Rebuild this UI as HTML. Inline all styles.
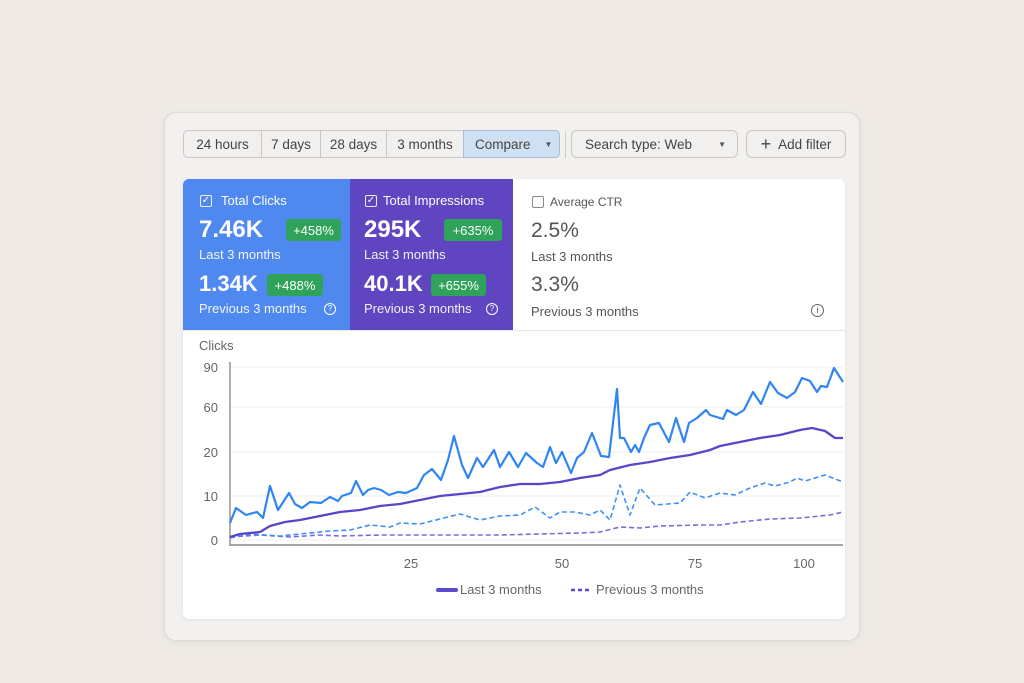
<!DOCTYPE html>
<html><head><meta charset="utf-8"><style>
*{box-sizing:border-box;margin:0;padding:0}
body{width:1024px;height:683px;background:#efeae6;font-family:"Liberation Sans",sans-serif;position:relative;overflow:hidden;color:#3c3c3c}
.a{position:absolute}
.panel{left:164px;top:112px;width:696px;height:529px;background:#f3f1ef;border:1px solid #dedad6;border-radius:12px;box-shadow:0 2px 8px rgba(0,0,0,.05)}
.seg{top:130px;height:28px;border:1px solid #c9c7c5;background:#f1f0ef;font-size:13.5px;color:#444;display:flex;align-items:center;justify-content:center}
.card{left:183px;top:179px;width:662px;height:440px;background:#fff;border-radius:6px;overflow:hidden;box-shadow:0 1px 3px rgba(0,0,0,.08)}
.w{color:#fff}
.badge{background:#2fa35a;color:#fff;font-size:13px;border-radius:3px;height:22px;display:flex;align-items:center;justify-content:center}
.cb{width:12px;height:12px;border:1.3px solid rgba(255,255,255,.9);border-radius:2px;font-size:10px;line-height:10px;text-align:center}
</style></head><body>
<div class="a panel"></div>
<div class="a seg" style="left:183px;width:79px;border-radius:5px 0 0 5px">24 hours</div>
<div class="a seg" style="left:261px;width:60px">7 days</div>
<div class="a seg" style="left:320px;width:67px">28 days</div>
<div class="a seg" style="left:386px;width:78px">3 months</div>
<div class="a seg" style="left:463px;width:97px;background:#cfe0f3;border-color:#a9bfd8;border-radius:0 5px 5px 0;justify-content:flex-start;padding-left:11px">Compare<span style="font-size:8px;margin-left:14px;color:#555">▼</span></div>
<div class="a" style="left:565px;top:131px;width:1px;height:27px;background:#ccc"></div>
<div class="a seg" style="left:571px;width:167px;border-radius:6px;justify-content:flex-start;padding-left:13px">Search type: Web<span style="font-size:8px;margin-left:26px;color:#555">▼</span></div>
<div class="a seg" style="left:746px;width:100px;border-radius:6px;font-size:13.5px"><span style="font-size:18px;margin-right:7px;font-weight:300">+</span>Add filter</div>
<div class="a card">
 <div class="a" style="left:0;top:0;width:167px;height:151px;background:#4f88ee"></div>
 <div class="a" style="left:167px;top:0;width:163px;height:151px;background:#5f45bf"></div>
 <div class="a" style="left:0;top:151px;width:662px;height:1px;background:#e6e6e6"></div>
 <div class="a cb w" style="left:17px;top:16px">✓</div>
 <div class="a w" style="left:38px;top:14px;font-size:13px">Total Clicks</div>
 <div class="a w" style="left:16px;top:37px;font-size:24px;font-weight:bold">7.46K</div>
 <div class="a badge" style="left:103px;top:40px;width:55px">+458%</div>
 <div class="a w" style="left:16px;top:68px;font-size:13px;opacity:.92">Last 3 months</div>
 <div class="a w" style="left:16px;top:92px;font-size:22px;font-weight:bold">1.34K</div>
 <div class="a badge" style="left:84px;top:95px;width:56px">+488%</div>
 <div class="a w" style="left:16px;top:122px;font-size:13px;opacity:.92">Previous 3 months</div>
 <div class="a w" style="left:141px;top:124px;width:12px;height:12px;border:1px solid #fff;border-radius:50%;font-size:8px;text-align:center;line-height:10px">?</div>
 <div class="a cb w" style="left:182px;top:16px">✓</div>
 <div class="a w" style="left:200px;top:14px;font-size:13px">Total Impressions</div>
 <div class="a w" style="left:181px;top:37px;font-size:24px;font-weight:bold">295K</div>
 <div class="a badge" style="left:261px;top:40px;width:58px">+635%</div>
 <div class="a w" style="left:181px;top:68px;font-size:13px;opacity:.92">Last 3 months</div>
 <div class="a w" style="left:181px;top:92px;font-size:22px;font-weight:bold">40.1K</div>
 <div class="a badge" style="left:248px;top:95px;width:55px">+655%</div>
 <div class="a w" style="left:181px;top:122px;font-size:13px;opacity:.92">Previous 3 months</div>
 <div class="a w" style="left:303px;top:124px;width:12px;height:12px;border:1px solid #fff;border-radius:50%;font-size:8px;text-align:center;line-height:10px">?</div>
 <div class="a" style="left:349px;top:17px;width:12px;height:12px;border:1px solid #888;border-radius:2px"></div>
 <div class="a" style="left:367px;top:16px;font-size:12px;color:#555">Average CTR</div>
 <div class="a" style="left:348px;top:40px;font-size:21px;color:#555">2.5%</div>
 <div class="a" style="left:348px;top:70px;font-size:13px;color:#555">Last 3 months</div>
 <div class="a" style="left:348px;top:94px;font-size:21px;color:#555">3.3%</div>
 <div class="a" style="left:348px;top:125px;font-size:13px;color:#555">Previous 3 months</div>
 <div class="a" style="left:628px;top:125px;width:13px;height:13px;border:1px solid #666;border-radius:50%;font-size:9px;text-align:center;line-height:11px;color:#555">i</div>
</div>
<svg class="a" style="left:0;top:0" width="1024" height="683">
<g font-family="Liberation Sans" font-size="13" fill="#666">
<text x="199" y="350">Clicks</text>
<text x="218" y="372" text-anchor="end">90</text>
<text x="218" y="412" text-anchor="end">60</text>
<text x="218" y="457" text-anchor="end">20</text>
<text x="218" y="501" text-anchor="end">10</text>
<text x="218" y="545" text-anchor="end">0</text>
<text x="411" y="568" text-anchor="middle">25</text>
<text x="562" y="568" text-anchor="middle">50</text>
<text x="695" y="568" text-anchor="middle">75</text>
<text x="804" y="568" text-anchor="middle">100</text>
<text x="460" y="594">Last 3 months</text>
<text x="596" y="594">Previous 3 months</text>
</g>
<g stroke="#ececec" stroke-width="1">
<line x1="230" y1="367" x2="843" y2="367"/><line x1="230" y1="407" x2="843" y2="407"/><line x1="230" y1="452" x2="843" y2="452"/><line x1="230" y1="496" x2="843" y2="496"/><line x1="230" y1="540" x2="843" y2="540"/>
</g>
<line x1="230" y1="362" x2="230" y2="546" stroke="#777" stroke-width="1.2"/>
<line x1="230" y1="545" x2="843" y2="545" stroke="#888" stroke-width="1.5"/>
<line x1="438" y1="590" x2="456" y2="590" stroke="#5a4bd0" stroke-width="4" stroke-linecap="round"/>
<line x1="571" y1="590" x2="589" y2="590" stroke="#5a4bd0" stroke-width="2.5" stroke-dasharray="4 3"/>
<g fill="none" stroke-linejoin="round">
<polyline stroke="#7c6be0" stroke-width="1.6" stroke-dasharray="5 3" points="230,537 260,535 290,537 320,535 340,536 380,535 420,535 460,535 500,535 540,534 580,533 600,532 620,527 640,528 660,526 700,525 720,525 740,522 770,519 800,518 830,515 843,512"/>
<polyline stroke="#3d90f5" stroke-width="1.6" stroke-dasharray="5 3" points="230,538 250,534 280,536 300,534 330,531 350,530 370,525 390,527 400,523 420,524 440,519 460,514 480,520 500,516 520,515 535,507 550,518 560,512 575,512 590,515 600,510 610,520 620,485 630,515 640,488 655,505 680,503 690,492 705,498 720,493 735,495 750,488 765,483 775,486 790,482 797,478 805,481 825,475 843,482"/>
<polyline stroke="#5a45c8" stroke-width="2.3" points="230,537 240,534 260,532 270,526 285,522 300,520 320,516 340,512 360,510 380,506 400,504 420,500 440,496 460,494 480,492 500,487 520,484 540,484 560,482 580,478 600,475 610,470 630,465 650,462 670,458 690,455 710,450 720,446 740,442 760,438 780,435 800,430 812,428 825,431 835,438 843,438"/>
<polyline stroke="#2f86f2" stroke-width="2.2" points="230,523 236,508 246,515 257,512 263,518 270,486 278,510 289,493 295,504 302,508 310,502 321,503 330,497 338,501 342,496 351,493 356,481 363,495 368,490 374,488 381,490 389,495 398,492 406,493 417,488 424,475 432,469 441,480 448,460 454,436 462,465 468,478 477,458 483,467 494,450 500,467 509,452 518,467 526,453 537,463 543,467 550,447 556,463 562,452 571,473 577,458 584,452 592,433 601,456 609,457 617,389 620,438 624,438 631,452 635,445 639,452 644,438 650,425 659,423 669,442 676,418 684,442 689,423 697,418 706,410 710,415 723,419 727,410 736,415 744,410 753,392 761,404 770,382 778,393 787,398 795,392 802,378 810,381 817,392 821,386 827,387 834,368 843,382"/>
</g>
</svg>
</body></html>
